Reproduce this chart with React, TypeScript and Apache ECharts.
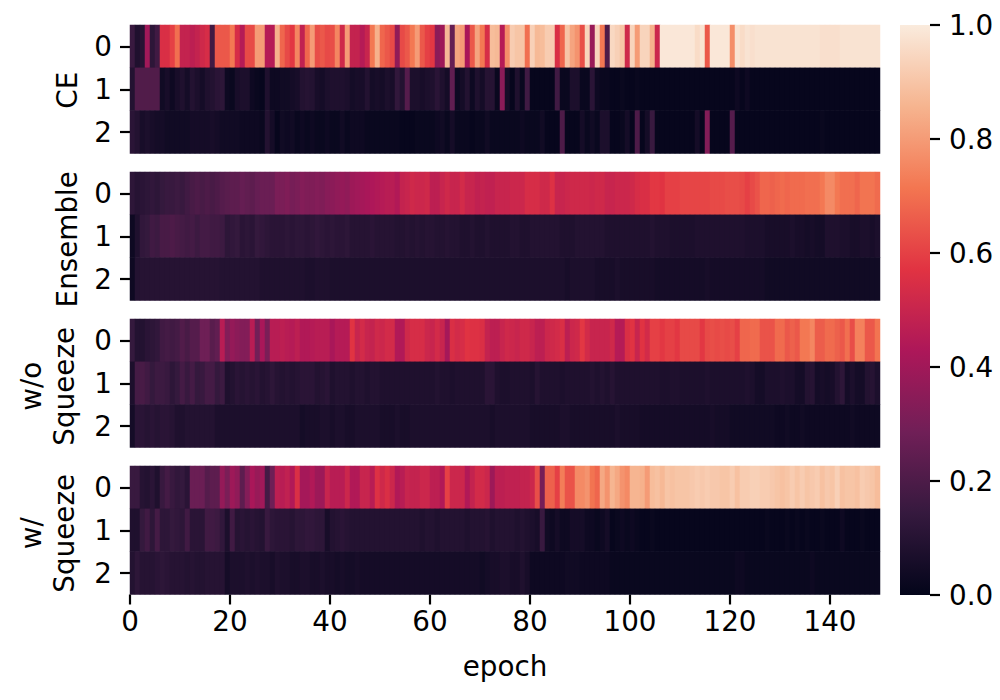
import React, { useEffect, useRef } from "react";
import * as echarts from "echarts";

const rocket = ["#03051a", "#35193e", "#701f57", "#ad1759", "#e13342", "#f37651", "#f6b48f", "#faebdd"];
const rowLabels = ["0", "1", "2"];
const panelNames = ["CE", "Ensemble", "w/o\nSqueeze", "w/\nSqueeze"];
const xTicks = [0, 20, 40, 60, 80, 100, 120, 140];
const barTicks = [0, 0.2, 0.4, 0.6, 0.8, 1];

const ce0 = [
  .15,.08,.1,.4,.12,.17,.55,.55,.6,.7,
  .49,.49,.47,.49,.52,.54,.17,.65,.65,.65,
  .72,.54,.45,.62,.62,.8,.8,.45,.45,.85,
  .68,.62,.58,.75,.48,.68,.8,.63,.65,.62,
  .63,.75,.52,.8,.49,.49,.45,.5,.72,.85,
  .68,.65,.62,.36,.62,.65,.72,.8,.65,.6,
  .58,.35,.39,.87,.26,.82,.8,.42,.65,.82,
  .72,.54,.88,.87,.45,.77,.92,.9,.9,.7,
  .93,.87,.88,.92,.92,.55,.68,.9,.82,.78,
  .63,.94,.38,.94,.72,.2,.95,.93,.9,.52,
  .94,.8,.94,.94,.85,.51,.99,.99,.99,.99,
  .99,.99,.99,.96,.98,.65,.99,.99,.99,.99,
  .77,.98,.96,.98,.97,.98,.98,.98,.98,.98,
  .98,.98,.98,.98,.98,.98,.98,.98,.97,.97,
  .97,.97,.98,.98,.98,.98,.98,.98,.98,.98,
];
const ce1 = [
  .09,.21,.21,.21,.21,.21,.04,.06,.03,.06,
  .08,.05,.09,.07,.05,.08,.09,.11,.12,.03,
  .02,.06,.07,.07,.03,.02,.01,.08,.03,.03,
  .04,.04,.05,.06,.09,.1,.09,.06,.05,.07,
  .08,.08,.08,.07,.05,.06,.06,.09,.05,.06,
  .05,.07,.06,.13,.09,.22,.07,.07,.06,.07,
  .08,.11,.08,.05,.25,.03,.05,.09,.03,.08,
  .05,.1,.1,.02,.35,.05,.01,.08,.02,.17,
  .01,.01,.01,.01,.01,.17,.02,.02,.07,.07,
  .02,.02,.11,.03,.02,.02,.01,.01,.02,.01,
  .01,.02,.01,.01,.01,.01,.01,.01,.01,.01,
  .01,.01,.01,.01,.01,.01,.01,.01,.01,.01,
  .01,.03,.01,.03,.01,.01,.01,.01,.01,.01,
  .01,.01,.01,.01,.01,.01,.01,.01,.01,.01,
  .01,.01,.01,.01,.01,.01,.01,.01,.01,.01,
];
const ce2 = [
  .11,.09,.06,.07,.06,.05,.05,.04,.04,.04,
  .04,.04,.05,.05,.05,.05,.06,.05,.04,.04,
  .04,.04,.03,.03,.03,.03,.02,.09,.05,.01,
  .04,.03,.04,.02,.03,.02,.03,.02,.02,.03,
  .02,.02,.04,.02,.03,.03,.03,.02,.02,.02,
  .02,.02,.02,.02,.01,.01,.01,.02,.02,.02,
  .02,.03,.04,.02,.05,.02,.02,.02,.01,.02,
  .02,.04,.02,.02,.02,.02,.02,.02,.03,.02,
  .02,.02,.04,.01,.01,.01,.2,.01,.01,.01,
  .05,.02,.04,.02,.07,.07,.01,.01,.02,.05,
  .01,.2,.01,.05,.15,.01,.01,.01,.01,.01,
  .01,.01,.01,.05,.01,.33,.01,.01,.01,.01,
  .22,.01,.01,.01,.01,.01,.01,.01,.01,.01,
  .01,.01,.01,.01,.01,.01,.01,.01,.02,.01,
  .01,.01,.01,.01,.01,.01,.01,.01,.01,.01,
];
const ens0 = [
  .12,.1,.11,.12,.13,.12,.14,.15,.15,.16,
  .15,.17,.19,.2,.19,.2,.19,.2,.22,.23,
  .24,.24,.26,.25,.24,.26,.27,.27,.27,.31,
  .31,.32,.3,.31,.33,.32,.32,.33,.32,.34,
  .35,.36,.37,.36,.39,.4,.41,.42,.43,.44,
  .45,.46,.46,.44,.49,.5,.52,.51,.51,.52,
  .47,.47,.5,.52,.5,.5,.53,.5,.5,.48,
  .49,.48,.48,.5,.5,.5,.51,.51,.51,.54,
  .54,.54,.52,.52,.56,.5,.5,.51,.52,.52,
  .52,.52,.51,.52,.52,.5,.5,.51,.51,.51,
  .52,.54,.55,.55,.58,.58,.57,.6,.6,.6,
  .61,.61,.61,.61,.61,.61,.62,.62,.62,.63,
  .63,.63,.62,.6,.62,.64,.68,.68,.67,.68,
  .69,.68,.69,.69,.69,.7,.7,.7,.72,.76,
  .76,.72,.7,.7,.7,.68,.71,.71,.71,.69,
];
const ens1 = [
  .03,.08,.13,.14,.17,.16,.19,.19,.2,.19,
  .18,.17,.18,.16,.18,.18,.17,.17,.16,.12,
  .13,.14,.11,.12,.11,.14,.13,.12,.11,.11,
  .11,.12,.11,.12,.12,.11,.12,.13,.12,.11,
  .12,.11,.11,.12,.1,.1,.1,.1,.11,.1,
  .1,.1,.1,.09,.09,.1,.09,.1,.09,.1,
  .1,.09,.09,.1,.09,.09,.08,.08,.09,.08,
  .08,.09,.08,.08,.08,.08,.09,.09,.08,.08,
  .09,.09,.09,.09,.09,.09,.08,.08,.08,.09,
  .09,.09,.09,.09,.09,.08,.08,.08,.08,.08,
  .08,.08,.08,.08,.09,.08,.08,.08,.07,.07,
  .07,.07,.07,.08,.08,.08,.08,.08,.08,.08,
  .08,.08,.08,.07,.07,.07,.07,.06,.06,.06,
  .06,.06,.07,.06,.06,.05,.06,.05,.05,.08,
  .08,.08,.07,.07,.06,.06,.07,.07,.06,.07,
];
const ens2 = [
  .03,.09,.1,.1,.1,.1,.1,.1,.1,.1,
  .1,.1,.1,.1,.1,.1,.1,.1,.09,.09,
  .09,.09,.09,.09,.09,.09,.08,.08,.08,.08,
  .08,.08,.08,.08,.08,.07,.07,.08,.08,.08,
  .07,.07,.07,.07,.07,.07,.07,.07,.07,.07,
  .07,.07,.07,.07,.07,.07,.07,.07,.07,.07,
  .07,.07,.07,.07,.07,.07,.07,.07,.07,.07,
  .07,.07,.07,.07,.07,.07,.07,.07,.07,.07,
  .07,.07,.07,.07,.07,.07,.07,.06,.07,.07,
  .07,.07,.07,.06,.06,.06,.06,.07,.06,.06,
  .06,.06,.06,.06,.06,.05,.05,.05,.05,.05,
  .05,.05,.05,.05,.05,.06,.05,.05,.05,.05,
  .05,.05,.05,.05,.05,.05,.05,.04,.04,.04,
  .04,.04,.04,.04,.04,.04,.04,.04,.04,.04,
  .04,.04,.04,.04,.04,.04,.04,.04,.04,.04,
];
const wo0 = [
  .14,.09,.09,.11,.12,.13,.17,.18,.17,.18,
  .21,.19,.22,.22,.28,.28,.23,.25,.46,.33,
  .37,.35,.33,.33,.46,.29,.42,.31,.46,.46,
  .47,.46,.45,.47,.44,.44,.45,.46,.46,.46,
  .42,.45,.45,.45,.57,.5,.53,.5,.49,.52,
  .51,.53,.53,.44,.44,.52,.54,.54,.54,.51,
  .5,.53,.5,.41,.55,.53,.54,.57,.56,.56,
  .55,.49,.47,.47,.5,.52,.51,.5,.52,.52,
  .5,.47,.47,.51,.52,.53,.55,.47,.51,.52,
  .58,.53,.5,.5,.5,.5,.52,.45,.45,.55,
  .57,.5,.57,.53,.6,.6,.58,.6,.6,.58,
  .62,.62,.62,.62,.58,.62,.63,.62,.63,.62,
  .63,.6,.68,.68,.69,.69,.64,.64,.64,.69,
  .69,.65,.67,.65,.72,.72,.75,.66,.66,.69,
  .69,.67,.65,.7,.63,.74,.74,.65,.65,.71,
];
const wo1 = [
  .07,.18,.19,.17,.14,.16,.16,.15,.12,.14,
  .18,.15,.18,.14,.15,.18,.18,.14,.16,.08,
  .09,.11,.1,.11,.1,.11,.09,.1,.12,.1,
  .09,.1,.09,.1,.11,.11,.11,.09,.1,.11,
  .08,.09,.09,.09,.08,.09,.09,.08,.09,.09,
  .08,.08,.08,.08,.08,.08,.08,.08,.08,.08,
  .08,.09,.08,.08,.07,.08,.08,.08,.08,.08,
  .08,.11,.11,.08,.07,.07,.08,.08,.08,.08,
  .07,.1,.08,.08,.08,.08,.07,.08,.08,.08,
  .08,.08,.09,.08,.09,.08,.1,.08,.08,.08,
  .08,.08,.08,.08,.08,.08,.07,.07,.08,.08,
  .07,.07,.07,.07,.07,.08,.07,.07,.07,.07,
  .07,.07,.07,.08,.07,.05,.05,.07,.07,.07,
  .08,.07,.07,.05,.05,.09,.1,.05,.06,.05,
  .06,.09,.12,.05,.07,.05,.05,.09,.1,.07,
];
const wo2 = [
  .05,.11,.11,.1,.11,.1,.11,.11,.1,.08,
  .08,.09,.09,.09,.09,.09,.09,.07,.07,.07,
  .07,.07,.07,.07,.07,.07,.07,.07,.07,.07,
  .07,.07,.07,.07,.05,.06,.06,.06,.07,.07,
  .06,.07,.07,.06,.06,.07,.07,.07,.07,.07,
  .06,.06,.06,.07,.06,.06,.07,.07,.07,.07,
  .07,.07,.07,.07,.07,.07,.07,.07,.07,.07,
  .07,.07,.06,.07,.07,.07,.07,.07,.07,.07,
  .06,.06,.06,.06,.06,.06,.07,.07,.06,.06,
  .06,.06,.06,.06,.06,.06,.06,.07,.06,.06,
  .06,.06,.05,.05,.05,.05,.05,.05,.05,.05,
  .05,.05,.05,.05,.05,.05,.06,.05,.05,.05,
  .04,.04,.04,.04,.04,.04,.04,.04,.04,.03,
  .03,.04,.03,.03,.04,.03,.03,.03,.03,.03,
  .03,.03,.03,.03,.04,.03,.03,.03,.03,.03,
];
const w0 = [
  .15,.15,.1,.09,.11,.08,.15,.18,.15,.13,
  .14,.11,.27,.27,.27,.22,.24,.24,.37,.31,
  .39,.36,.24,.33,.42,.38,.4,.18,.28,.47,
  .46,.48,.44,.55,.41,.41,.44,.39,.39,.5,
  .46,.46,.46,.51,.44,.44,.5,.5,.46,.56,
  .52,.55,.51,.44,.46,.5,.49,.49,.51,.51,
  .47,.47,.44,.6,.51,.51,.51,.44,.49,.53,
  .53,.51,.39,.47,.47,.48,.48,.48,.49,.49,
  .51,.63,.3,.67,.67,.6,.73,.64,.64,.76,
  .76,.78,.71,.68,.83,.78,.86,.83,.78,.76,
  .86,.86,.85,.8,.88,.89,.87,.9,.89,.9,
  .9,.9,.91,.92,.91,.92,.91,.91,.9,.9,
  .92,.89,.92,.92,.93,.93,.92,.92,.91,.9,
  .89,.9,.92,.9,.92,.9,.91,.92,.89,.91,
  .9,.93,.89,.9,.9,.89,.92,.91,.9,.88,
];
const w1 = [
  .08,.08,.14,.17,.12,.18,.12,.12,.14,.13,
  .12,.17,.11,.11,.11,.17,.17,.16,.13,.07,
  .17,.1,.11,.1,.11,.1,.09,.15,.12,.11,
  .11,.11,.1,.12,.12,.13,.13,.12,.12,.06,
  .09,.1,.11,.1,.09,.09,.09,.09,.09,.09,
  .09,.09,.09,.09,.09,.09,.09,.09,.08,.09,
  .09,.08,.09,.09,.09,.09,.09,.08,.09,.09,
  .09,.1,.08,.09,.09,.09,.09,.08,.09,.08,
  .07,.06,.15,.04,.03,.05,.03,.03,.05,.05,
  .05,.03,.03,.02,.03,.05,.01,.02,.03,.02,
  .03,.02,.01,.01,.02,.01,.01,.01,.01,.01,
  .01,.01,.01,.01,.01,.01,.01,.01,.01,.01,
  .01,.01,.01,.01,.01,.01,.01,.02,.01,.01,
  .01,.02,.01,.02,.01,.02,.01,.01,.02,.01,
  .01,.01,.03,.01,.01,.01,.02,.01,.01,.01,
];
const w2 = [
  .09,.12,.1,.1,.1,.11,.12,.11,.1,.1,
  .1,.09,.1,.09,.09,.1,.1,.1,.1,.05,
  .07,.07,.07,.08,.07,.08,.07,.07,.06,.08,
  .07,.07,.06,.06,.07,.07,.06,.06,.07,.06,
  .06,.05,.06,.05,.05,.06,.05,.05,.05,.05,
  .05,.05,.05,.05,.05,.05,.05,.05,.05,.05,
  .05,.05,.05,.05,.05,.05,.05,.05,.05,.05,
  .04,.05,.06,.06,.07,.07,.06,.06,.08,.06,
  .03,.03,.03,.03,.03,.03,.03,.04,.04,.04,
  .03,.03,.03,.03,.03,.03,.02,.02,.02,.02,
  .02,.02,.02,.02,.02,.02,.02,.02,.02,.02,
  .02,.02,.02,.02,.02,.02,.02,.02,.02,.02,
  .02,.03,.03,.02,.02,.02,.02,.02,.02,.02,
  .02,.02,.02,.02,.02,.02,.03,.02,.02,.02,
  .02,.02,.02,.02,.02,.02,.02,.02,.02,.02,
];

const panels = [
  [ce0, ce1, ce2],
  [ens0, ens1, ens2],
  [wo0, wo1, wo2],
  [w0, w1, w2],
];
const categories = ce0.map((_, i) => String(i));

const FONT = "'DejaVu Sans'";
const FONT_SIZE = 27.8;
const TEXT = "#000000";
const gridTops = [25, 172, 319, 466];

export default function App() {
  const ref = useRef<HTMLDivElement>(null);
  useEffect(() => {
    const chart = echarts.init(ref.current!, null, { renderer: "svg" });
    const grid: any[] = gridTops.map((top) => ({ left: 130, top, width: 750, height: 128.5, outerBoundsMode: "none" }));
    grid.push({ left: 900, top: 25, width: 30, height: 570, outerBoundsMode: "none" });

    const tick = { show: true, length: 10, lineStyle: { width: 2.2, color: TEXT } };
    const text = { fontFamily: FONT, fontSize: FONT_SIZE, color: TEXT };

    const xAxis: any[] = panels.map((_, i) => ({
      type: "category",
      gridIndex: i,
      data: categories,
      show: false,
    }));
    xAxis.push({
      type: "value",
      gridIndex: 3,
      position: "bottom",
      min: 0,
      max: 150,
      axisLine: { show: false, onZero: false },
      splitLine: { show: false },
      axisTick: { ...tick, customValues: xTicks },
      axisLabel: { ...text, margin: 13, customValues: xTicks, formatter: (v: number) => String(v) },
      name: "epoch",
      nameLocation: "middle",
      nameMoveOverlap: false,
      nameGap: 58,
      nameTextStyle: text,
    });
    xAxis.push({ type: "value", gridIndex: 4, min: 0, max: 1, show: false });

    const yAxis: any[] = panels.map((_, i) => ({
      type: "category",
      gridIndex: i,
      data: rowLabels,
      inverse: true,
      axisLine: { show: false },
      splitLine: { show: false },
      axisTick: { ...tick, alignWithLabel: true },
      axisLabel: { ...text, margin: 18 },
      name: panelNames[i],
      nameLocation: "middle",
      nameRotate: 90,
      nameMoveOverlap: false,
      nameGap: panelNames[i].includes("\n") ? 49 : 46,
      nameTextStyle: { ...text, lineHeight: 33, align: "center", padding: [0, i === 0 ? 2 : 6, 0, 0] },
    }));
    yAxis.push({
      type: "value",
      gridIndex: 4,
      position: "right",
      min: 0,
      max: 1,
      interval: 0.2,
      axisLine: { show: false, onZero: false },
      splitLine: { show: false },
      axisTick: { ...tick, customValues: barTicks },
      axisLabel: { ...text, margin: 19, customValues: barTicks, formatter: (v: number) => v.toFixed(1) },
    });

    const series: any[] = panels.map((rows, i) => ({
      type: "heatmap",
      xAxisIndex: i,
      yAxisIndex: i,
      progressive: 0,
      emphasis: { disabled: true },
      data: rows.flatMap((vals, r) => vals.map((v, c) => [c, r, v])),
    }));

    chart.setOption({
      animation: false,
      backgroundColor: "#ffffff",
      grid,
      xAxis,
      yAxis,
      series,
      visualMap: {
        type: "continuous",
        min: 0,
        max: 1,
        seriesIndex: [0, 1, 2, 3],
        inRange: { color: rocket },
        show: false,
      },
      graphic: [
        {
          type: "rect",
          left: 900,
          top: 25,
          shape: { width: 30, height: 570 },
          style: {
            fill: new echarts.graphic.LinearGradient(
              0, 1, 0, 0,
              rocket.map((color, i) => ({ offset: i / (rocket.length - 1), color }))
            ),
          },
          silent: true,
        },
      ],
    });
    return () => chart.dispose();
  }, []);
  return <div ref={ref} style={{ position: "absolute", left: 0, top: 0, width: 1000, height: 700 }} />;
}
